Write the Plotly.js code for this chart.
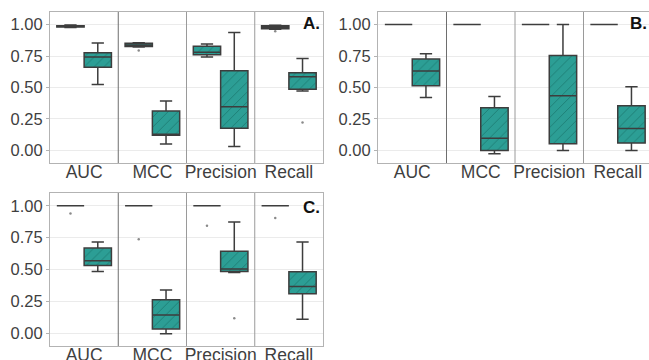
<!DOCTYPE html>
<html>
<head>
<meta charset="utf-8">
<script src="https://cdn.plot.ly/plotly-3.0.1.min.js"></script>
<style>html,body{margin:0;padding:0;background:#fff}#chart{width:649px;height:360px}</style>
</head>
<body>
<div id="chart"></div>
<script>
// Categories (facets)
const metrics = ["AUC", "MCC", "Precision", "Recall"];
const panelLabels = ["A.", "B.", "C."];

// Panel A — training (left box) statistics, per metric
const A_train_lower  = [0.976, 0.822, 0.742, 0.962];
const A_train_q1     = [0.980, 0.826, 0.761, 0.966];
const A_train_median = [0.985, 0.838, 0.781, 0.979];
const A_train_q3     = [0.991, 0.852, 0.827, 0.991];
const A_train_upper  = [0.996, 0.856, 0.846, 0.995];
const A_train_out    = [null, 0.795, null, 0.947];
// Panel A — test (right box)
const A_test_lower   = [0.524, 0.050, 0.032, 0.472];
const A_test_q1      = [0.660, 0.121, 0.176, 0.486];
const A_test_median  = [0.742, 0.129, 0.347, 0.586];
const A_test_q3      = [0.776, 0.313, 0.634, 0.618];
const A_test_upper   = [0.853, 0.392, 0.937, 0.731];
const A_test_out     = [null, null, null, 0.221];

// Panel B — training
const B_train_lower  = [1.0, 1.0, 1.0, 1.0];
const B_train_q1     = [1.0, 1.0, 1.0, 1.0];
const B_train_median = [1.0, 1.0, 1.0, 1.0];
const B_train_q3     = [1.0, 1.0, 1.0, 1.0];
const B_train_upper  = [1.0, 1.0, 1.0, 1.0];
const B_train_out    = [null, null, null, null];
// Panel B — test
const B_test_lower   = [0.421, -0.026, 0.000, 0.000];
const B_test_q1      = [0.513, 0.000, 0.053, 0.058];
const B_test_median  = [0.632, 0.097, 0.434, 0.174];
const B_test_q3      = [0.726, 0.339, 0.755, 0.355];
const B_test_upper   = [0.768, 0.429, 1.000, 0.505];
const B_test_out     = [null, null, null, null];

// Panel C — training
const C_train_lower  = [1.0, 1.0, 1.0, 1.0];
const C_train_q1     = [1.0, 1.0, 1.0, 1.0];
const C_train_median = [1.0, 1.0, 1.0, 1.0];
const C_train_q3     = [1.0, 1.0, 1.0, 1.0];
const C_train_upper  = [1.0, 1.0, 1.0, 1.0];
const C_train_out    = [0.940, 0.738, 0.843, 0.903];
// Panel C — test
const C_test_lower   = [0.484, -0.003, 0.476, 0.110];
const C_test_q1      = [0.531, 0.034, 0.484, 0.309];
const C_test_median  = [0.568, 0.144, 0.503, 0.366];
const C_test_q3      = [0.668, 0.262, 0.644, 0.482];
const C_test_upper   = [0.715, 0.340, 0.872, 0.715];
const C_test_out     = [null, null, 0.118, null];

const TEAL = "#2c9e95";
const HATCH = "rgba(22,110,102,0.75)";
const LINE = "#3d3d3d";
const FONT = "Liberation Sans, Arial, sans-serif";

const panels = [
  {ax: "", train: [A_train_lower, A_train_q1, A_train_median, A_train_q3, A_train_upper, A_train_out],
           test:  [A_test_lower, A_test_q1, A_test_median, A_test_q3, A_test_upper, A_test_out]},
  {ax: "2", train: [B_train_lower, B_train_q1, B_train_median, B_train_q3, B_train_upper, B_train_out],
           test:  [B_test_lower, B_test_q1, B_test_median, B_test_q3, B_test_upper, B_test_out]},
  {ax: "3", train: [C_train_lower, C_train_q1, C_train_median, C_train_q3, C_train_upper, C_train_out],
           test:  [C_test_lower, C_test_q1, C_test_median, C_test_q3, C_test_upper, C_test_out]}
];

const BOXW = 0.4;
const traces = [];
panels.forEach((p, k) => {
  const xa = "x" + p.ax, ya = "y" + p.ax;
  // hatched fill (bars from q1 to q3)
  [["train", -BOXW], ["test", 0]].forEach(([key, off]) => {
    const s = p[key];
    traces.push({
      type: "bar", x: metrics, base: s[1], y: s[3].map((v, i) => v - s[1][i]),
      width: BOXW, offset: off, xaxis: xa, yaxis: ya, showlegend: false, hoverinfo: "skip",
      marker: {color: TEAL, line: {width: 0},
               pattern: {shape: "/", fgcolor: HATCH, bgcolor: TEAL, size: 7, solidity: 0.12}}
    });
  });
  // box outlines (precomputed statistics)
  ["train", "test"].forEach(key => {
    const s = p[key];
    traces.push({
      type: "box", x: metrics,
      lowerfence: s[0], q1: s[1], median: s[2], q3: s[3], upperfence: s[4],
      xaxis: xa, yaxis: ya, name: key, showlegend: false,
      offsetgroup: key, alignmentgroup: "box" + k,
      fillcolor: "rgba(0,0,0,0)", line: {color: LINE, width: 1.5}, whiskerwidth: 0.45,
      boxpoints: false
    });
  });
  // outlier points
  ["train", "test"].forEach(key => {
    const s = p[key];
    traces.push({
      type: "scatter", mode: "markers", x: metrics, y: s[5],
      xaxis: xa, yaxis: ya, showlegend: false, hoverinfo: "skip",
      offsetgroup: key, alignmentgroup: "out" + k,
      marker: {color: "#8a8a8a", size: 2.5}
    });
  });
});

const yaxisBase = {
  range: [-0.1, 1.1], tickvals: [0, 0.25, 0.5, 0.75, 1], tickformat: ".2f",
  showgrid: true, gridcolor: "#ebebeb", gridwidth: 1, zeroline: false,
  showline: true, mirror: true, linecolor: "#b3b3b3", linewidth: 1,
  ticks: "outside", ticklen: 3, tickcolor: "#b3b3b3",
  tickfont: {family: FONT, size: 16.5, color: "#3f3f3f"}, fixedrange: true
};
const xaxisBase = {
  type: "category", categoryorder: "array", categoryarray: metrics,
  showgrid: false, zeroline: false, showline: true, mirror: true,
  linecolor: "#b3b3b3", linewidth: 1, ticks: "", ticklabelstandoff: -7,
  tickfont: {family: FONT, size: 17.5, color: "#3f3f3f"}, fixedrange: true
};

const domA = {x: [50/649, 323/649], y: [1 - 163/360, 1 - 12/360]};
const domB = {x: [378/649, 1], y: [1 - 163/360, 1 - 12/360]};
const domC = {x: [50/649, 323/649], y: [1 - 346/360, 1 - 193/360]};

const layout = {
  width: 649, height: 360, margin: {l: 0, r: 0, t: 0, b: 0},
  paper_bgcolor: "#fff", plot_bgcolor: "#fff", showlegend: false,
  boxmode: "group", boxgap: 0.2, boxgroupgap: 0, barmode: "overlay",
  scattermode: "group", scattergap: 0.2,
  font: {family: FONT},
  xaxis:  Object.assign({}, xaxisBase, {domain: domA.x, anchor: "y",  range: [-0.5, 3.5]}),
  yaxis:  Object.assign({}, yaxisBase, {domain: domA.y, anchor: "x"}),
  xaxis2: Object.assign({}, xaxisBase, {domain: domB.x, anchor: "y2", range: [-0.5, 3.456]}),
  yaxis2: Object.assign({}, yaxisBase, {domain: domB.y, anchor: "x2"}),
  xaxis3: Object.assign({}, xaxisBase, {domain: domC.x, anchor: "y3", range: [-0.5, 3.5]}),
  yaxis3: Object.assign({}, yaxisBase, {domain: domC.y, anchor: "x3"}),
  shapes: [], annotations: []
};

["", "2", "3"].forEach((ax, k) => {
  [0.5, 1.5, 2.5].forEach((xv, j) => {
    layout.shapes.push({type: "line", xref: "x" + ax, yref: "y" + ax + " domain",
      x0: xv, x1: xv, y0: 0, y1: 1,
      line: {color: j === 0 ? "#6e6e6e" : "#9a9a9a", width: 1}, layer: "above"});
  });
  layout.annotations.push({
    text: "<b>" + panelLabels[k] + "</b>", xref: "x" + ax + " domain", yref: "y" + ax + " domain",
    x: k === 1 ? 1.0 : 0.995, y: k === 2 ? 0.905 : 0.925, xanchor: "right", yanchor: "middle",
    showarrow: false, font: {family: FONT, size: 17, color: "#111"}
  });
});

Plotly.newPlot("chart", traces, layout, {displayModeBar: false, staticPlot: true});
</script>
</body>
</html>
